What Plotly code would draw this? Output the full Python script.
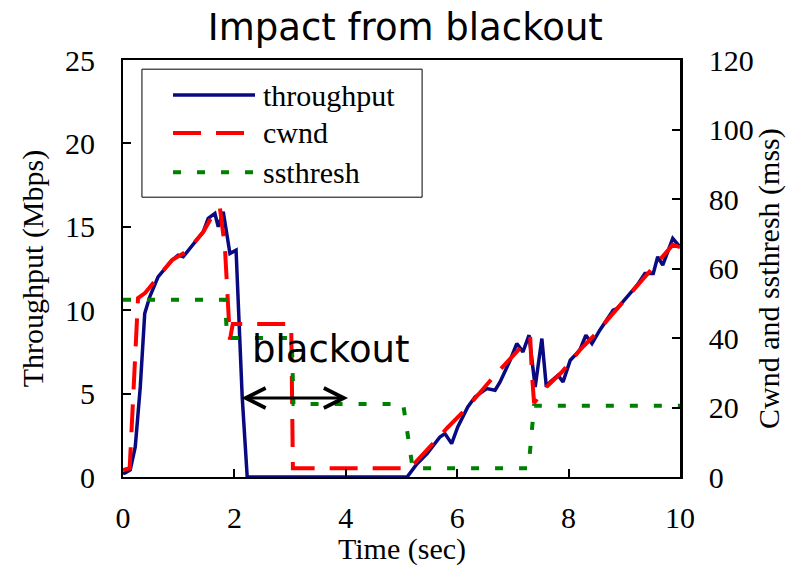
import plotly.graph_objects as go

# ---- data ----
thr_t = [0.0, 0.04, 0.13, 0.22, 0.31, 0.39, 0.48, 0.63, 0.88, 0.99, 1.08, 1.15, 1.29, 1.44, 1.53, 1.65,
         1.71, 1.80, 1.92, 2.03, 2.14, 2.23, 5.10, 5.28, 5.46, 5.69, 5.78, 5.90, 6.01, 6.19, 6.32,
         6.53, 6.68, 6.77, 6.95, 7.07, 7.18, 7.29, 7.40, 7.52, 7.60, 7.67, 7.81, 7.90, 8.03, 8.20,
         8.31, 8.42, 8.56, 8.80, 8.87, 9.05, 9.23, 9.37, 9.52, 9.60, 9.69, 9.87, 10.0]
thr_v = [0.2, 0.24, 0.42, 1.8, 5.4, 9.8, 10.8, 12.0, 13.0, 13.3, 13.2, 13.5, 14.1, 14.7, 15.5, 15.8,
         15.0, 15.9, 13.4, 13.6, 4.8, 0.0, 0.0, 0.8, 1.4, 2.4, 2.6, 2.0, 3.0, 4.2, 4.8,
         5.3, 5.2, 5.7, 7.0, 8.0, 7.5, 8.5, 5.4, 8.3, 5.4, 5.7, 6.1, 5.7, 7.0, 7.6,
         8.5, 8.0, 8.8, 10.0, 10.1, 10.8, 11.5, 12.2, 12.2, 13.2, 12.7, 14.3, 13.8]

cwnd_t = [0.0, 0.12, 0.27, 0.40, 0.63, 0.88, 1.15, 1.29, 1.44, 1.60, 1.74, 1.83, 1.92, 1.97, 3.02,
          3.05, 5.12, 5.21, 5.57, 5.82, 6.14, 6.37, 6.71, 6.98, 7.22, 7.31, 7.34, 7.38, 7.60, 7.88,
          8.20, 8.47, 8.74, 9.01, 9.34, 9.59, 9.87, 10.0]
cwnd_v = [2.0, 2.5, 51.5, 53.0, 57.6, 62.4, 65.0, 67.7, 70.5, 75.0, 77.4, 66.0, 39.5, 44.0, 44.0,
          2.5, 2.5, 3.5, 9.8, 14.1, 19.3, 23.6, 29.9, 34.5, 38.8, 40.3, 30.0, 21.3, 25.9, 30.2,
          36.5, 40.9, 46.0, 51.0, 56.7, 61.6, 66.8, 66.2]

ss_t = [0.0, 1.83, 1.87, 3.03, 3.06, 5.03, 5.20, 7.28, 7.38, 10.0]
ss_v = [51.0, 51.0, 40.0, 40.0, 21.0, 21.0, 2.5, 2.5, 20.5, 20.5]

x_ticks = [0, 2, 4, 6, 8, 10]
y1_ticks = [0, 5, 10, 15, 20, 25]
y2_ticks = [0, 20, 40, 60, 80, 100, 120]

names = ["throughput", "cwnd", "ssthresh"]
colors = ["#0a0a80", "#ff0000", "#008000"]

SERIF = "Liberation Serif"
SANS = "DejaVu Sans"

fig = go.Figure()
fig.add_trace(go.Scatter(x=thr_t, y=thr_v, mode="lines", name=names[0],
                         line=dict(color=colors[0], width=3.5), yaxis="y"))
fig.add_trace(go.Scatter(x=cwnd_t, y=cwnd_v, mode="lines", name=names[1],
                         line=dict(color=colors[1], width=4, dash="28px,15px"), yaxis="y2"))
fig.add_trace(go.Scatter(x=ss_t, y=ss_v, mode="lines", name=names[2],
                         line=dict(color=colors[2], width=4, dash="8px,16px"), yaxis="y2"))

tickfont = dict(family=SERIF, size=30, color="black")
axfont = dict(family=SERIF, size=30, color="black")
legfont = dict(family=SERIF, size=30, color="black")
fig.update_layout(
    width=787, height=566,
    margin=dict(l=123, r=107, t=60, b=89),
    paper_bgcolor="white", plot_bgcolor="white",
    showlegend=False,
    title=dict(text="Impact from blackout", font=dict(family=SANS, size=37, color="black"),
               x=0.515, xanchor="center", y=0.952, yanchor="middle"),
    xaxis=dict(range=[0, 10], tickvals=x_ticks, ticks="inside", ticklen=8, tickwidth=1.5,
               tickcolor="black", showline=True, linecolor="black", linewidth=2, mirror=True,
               showgrid=False, zeroline=False, tickfont=tickfont, ticklabelstandoff=13),
    yaxis=dict(range=[0, 25], tickvals=y1_ticks, ticks="inside", ticklen=8, tickwidth=1.5,
               tickcolor="black", showline=True, linecolor="black", linewidth=2,
               showgrid=False, zeroline=False, tickfont=tickfont, ticklabelstandoff=20),
    yaxis2=dict(range=[0, 120], tickvals=y2_ticks, ticks="inside", ticklen=8, tickwidth=1.5,
                tickcolor="black", showline=True, linecolor="black", linewidth=2.5,
                overlaying="y", side="right", showgrid=False, zeroline=False,
                tickfont=tickfont, ticklabelstandoff=20),
)

# axis titles
fig.add_annotation(text="Time (sec)", xref="paper", yref="paper", x=0.5, y=-0.172,
                   xanchor="center", yanchor="middle", showarrow=False, font=axfont)
fig.add_annotation(text="Throughput (Mbps)", xref="paper", yref="paper", x=-0.162, y=0.5,
                   xanchor="center", yanchor="middle", textangle=-90, showarrow=False, font=axfont)
fig.add_annotation(text="Cwnd and ssthresh (mss)", xref="paper", yref="paper", x=1.16, y=0.475,
                   xanchor="center", yanchor="middle", textangle=-90, showarrow=False, font=axfont)

# blackout label and arrow
fig.add_annotation(text="blackout", x=3.73, y=7.67, xref="x", yref="y", showarrow=False,
                   font=dict(family=SANS, size=37, color="black"))
fig.add_annotation(x=4.04, y=4.74, ax=2.1, ay=4.74, xref="x", yref="y", axref="x", ayref="y",
                   text="", showarrow=True, arrowhead=5, startarrowhead=5, arrowside="end+start",
                   arrowwidth=3, arrowsize=1.3, startarrowsize=1.3, arrowcolor="black")

# custom legend
fig.add_shape(type="rect", xref="paper", yref="paper", x0=0.034, x1=0.537, y0=0.671, y1=0.978,
              line=dict(color="black", width=1), fillcolor="white", layer="below")
leg_y = [0.916, 0.825, 0.731]
dashes = ["solid", "28px,15px", "8px,16px"]
widths = [3.5, 4, 4]
for nm, c, yy, d, w in zip(names, colors, leg_y, dashes, widths):
    fig.add_shape(type="line", xref="paper", yref="paper", x0=0.0898, x1=0.237, y0=yy, y1=yy,
                  line=dict(color=c, width=w, dash=d))
    fig.add_annotation(text=nm, xref="paper", yref="paper", x=0.248, y=yy, xanchor="left",
                       yanchor="middle", showarrow=False, font=legfont)

fig.write_html("out.html")
